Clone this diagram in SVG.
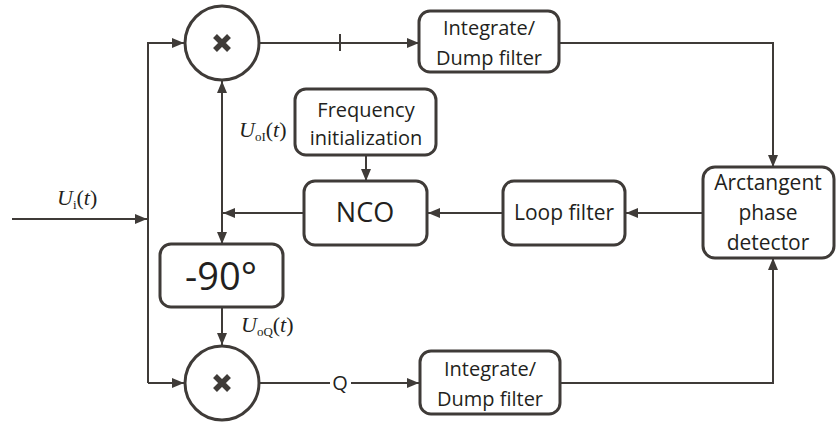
<svg xmlns="http://www.w3.org/2000/svg" width="836" height="426" viewBox="0 0 836 426">
<style>
.box{fill:#fff;stroke:#3f3b38;stroke-width:3}
.ln{fill:none;stroke:#3f3b38;stroke-width:2}
.t{font-family:"Open Sans","Liberation Sans",sans-serif;fill:#231f20;text-anchor:middle}
.m{font-family:"Liberation Serif",serif;fill:#231f20}
.x{stroke:#3f3b38;stroke-width:5.5;stroke-linecap:butt}
</style>
<defs>
<marker id="a" viewBox="0 0 12 10" refX="12" refY="5" markerWidth="12" markerHeight="10" markerUnits="userSpaceOnUse" orient="auto">
<path d="M0,0 L12,5 L0,10 Z" fill="#3f3b38"/>
</marker>
</defs>
<g id="connectors">
<path class="ln" d="M12,219 H147" marker-end="url(#a)"/>
<path class="ln" d="M148,383 V43 H184" marker-end="url(#a)"/>
<path class="ln" d="M148,383 H184" marker-end="url(#a)"/>
<path class="ln" d="M260,43 H419" marker-end="url(#a)"/>
<path class="ln" d="M340,34 V51" stroke-width="2.5"/>
<path class="ln" d="M559,43 H773 V167" marker-end="url(#a)"/>
<path class="ln" d="M260,383 H330 M351,383 H419" marker-end="url(#a)"/>
<path class="ln" d="M560,383 H773 V258" marker-end="url(#a)"/>
<path class="ln" d="M703,213 H626" marker-end="url(#a)"/>
<path class="ln" d="M503,213 H428" marker-end="url(#a)"/>
<path class="ln" d="M304,213 H223" marker-end="url(#a)"/>
<path class="ln" d="M366,155 V181" marker-end="url(#a)"/>
<path class="ln" d="M222,160 V81" marker-end="url(#a)"/>
<path class="ln" d="M222,160 V244" marker-end="url(#a)"/>
<path class="ln" d="M222,307 V345" marker-end="url(#a)"/>
</g>
<g id="mixerI">
<circle class="box" cx="222" cy="43" r="37"/>
<path class="x" d="M215,36 L229,50 M229,36 L215,50"/>
</g>
<g id="mixerQ">
<circle class="box" cx="222" cy="383" r="37"/>
<path class="x" d="M215,376 L229,390 M229,376 L215,390"/>
</g>
<g id="intI">
<rect class="box" x="419" y="11" width="140" height="61" rx="11"/>
<text class="t" x="489" y="35" font-size="20">Integrate/</text>
<text class="t" x="489" y="65" font-size="20">Dump filter</text>
</g>
<g id="intQ">
<rect class="box" x="420" y="351" width="140" height="63" rx="11"/>
<text class="t" x="490" y="376" font-size="20">Integrate/</text>
<text class="t" x="490" y="406" font-size="20">Dump filter</text>
</g>
<g id="freq">
<rect class="box" x="295" y="89" width="141" height="66" rx="11"/>
<text class="t" x="366" y="117" font-size="20">Frequency</text>
<text class="t" x="366" y="145" font-size="20">initialization</text>
</g>
<g id="nco">
<rect class="box" x="304" y="181" width="123" height="64" rx="11"/>
<text class="t" x="365" y="222" font-size="27">NCO</text>
</g>
<g id="loop">
<rect class="box" x="503" y="181" width="122" height="64" rx="11"/>
<text class="t" x="564" y="220" font-size="21">Loop filter</text>
</g>
<g id="atan">
<rect class="box" x="703" y="167" width="131" height="91" rx="12"/>
<text class="t" x="768" y="190" font-size="21">Arctangent</text>
<text class="t" x="768" y="220" font-size="21">phase</text>
<text class="t" x="768" y="250" font-size="21">detector</text>
</g>
<g id="shift">
<rect class="box" x="160" y="244" width="123" height="63" rx="11"/>
<text class="t" x="221" y="290" font-size="38">-90°</text>
</g>
<g id="labels">
<text class="t" x="340" y="390" font-size="20">Q</text>
<text class="m" x="57" y="205" font-size="22"><tspan font-style="italic">U</tspan><tspan font-size="13" dy="4">i</tspan><tspan dy="-4">(</tspan><tspan font-style="italic">t</tspan>)</text>
<text class="m" x="239" y="137" font-size="22"><tspan font-style="italic">U</tspan><tspan font-size="13" dy="4">oI</tspan><tspan dy="-4">(</tspan><tspan font-style="italic">t</tspan>)</text>
<text class="m" x="241" y="332" font-size="22"><tspan font-style="italic">U</tspan><tspan font-size="13" dy="4">oQ</tspan><tspan dy="-4">(</tspan><tspan font-style="italic">t</tspan>)</text>
</g>
</svg>
